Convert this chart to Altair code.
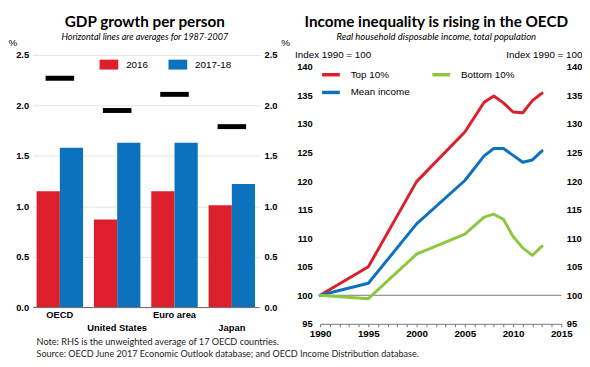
import altair as alt
import pandas as pd

# ---------------- data ----------------
regions = ["OECD", "United States", "Euro area", "Japan"]
series_names = ["2016", "2017-18"]
g2016 = [1.15, 0.87, 1.15, 1.01]
g2017_18 = [1.58, 1.63, 1.63, 1.22]
avg_1987_2007 = [2.27, 1.95, 2.11, 1.79]
left_ticks = [0.0, 0.5, 1.0, 1.5, 2.0, 2.5]

years = [1990, 1995, 2000, 2005, 2007, 2008, 2009, 2010, 2011, 2012, 2013]
top10 = [100, 105, 119.9, 128.6, 133.8, 134.9, 133.7, 132.1, 131.95, 134.1, 135.4]
mean_income = [100, 102.1, 112.5, 120.1, 124.4, 125.7, 125.7, 124.5, 123.3, 123.7, 125.3]
bottom10 = [100, 99.4, 107.2, 110.7, 113.7, 114.2, 113.3, 110.3, 108.3, 107.0, 108.6]
# legend order (filled column by column): Top 10%, Mean income | Bottom 10%
line_names = ["Top 10%", "Mean income", "Bottom 10%"]
right_ticks = [95, 100, 105, 110, 115, 120, 125, 130, 135, 140]
year_ticks = list(range(1990, 2016))

RED = "#dc1f2a"
BLUE = "#0c72be"
GREEN = "#8dc63f"
SANS = "'Liberation Sans', Arial, sans-serif"
TFONT = "Lato"

bar_df = pd.DataFrame({
    "region": regions * 2,
    "series": [series_names[0]] * 4 + [series_names[1]] * 4,
    "value": g2016 + g2017_18,
})
avg_df = pd.DataFrame({"region": regions, "avg": avg_1987_2007})

line_df = pd.DataFrame({
    "year": years * 3,
    "value": top10 + mean_income + bottom10,
    "series": [line_names[0]] * len(years) + [line_names[1]] * len(years) + [line_names[2]] * len(years),
})

yaxis_common = dict(
    labelFont=SANS, labelFontWeight="bold", labelFontSize=9.5, labelColor="#000",
    ticks=False, domain=False, gridColor="#e4e4e4",
    titleFont=SANS, titleFontWeight="normal", titleFontSize=10, titleColor="#000",
    titleAngle=0, titleBaseline="alphabetic",
)

# ---------------- left panel ----------------
ly = alt.Scale(domain=[0, 2.5], nice=False)
lx = alt.Scale(paddingInner=0.19, paddingOuter=0.07)

bars = alt.Chart(bar_df).mark_bar().encode(
    x=alt.X("region:N", sort=regions, scale=lx, axis=alt.Axis(
        title=None, labelAngle=0, ticks=False, domainColor="#666",
        labelFont=SANS, labelFontWeight="bold", labelFontSize=9.5, labelColor="#000",
        labelPadding=3, labelLineHeight=13,
        labelExpr="indexof(['United States','Japan'], datum.label) >= 0 ? ['', datum.label] : datum.label")),
    xOffset=alt.XOffset("series:N", sort=series_names, scale=alt.Scale(paddingInner=0, paddingOuter=0)),
    y=alt.Y("value:Q", scale=ly, axis=alt.Axis(
        values=left_ticks, format=".1f", title="%", titleX=-25, titleY=-10,
        titleAlign="left", labelPadding=4, **yaxis_common)),
    color=alt.Color("series:N", scale=alt.Scale(domain=series_names, range=[RED, BLUE]),
                    legend=alt.Legend(
                        title=None, orient="none", legendX=68, legendY=0, direction="horizontal",
                        symbolType="M-1,-0.53H1V0.53H-1Z", symbolSize=361, symbolStrokeWidth=0,
                        labelFont=SANS, labelFontSize=10, labelColor="#000", labelOffset=8,
                        columnPadding=20, padding=0)),
)

avg_marks = alt.Chart(avg_df).mark_tick(color="black", opacity=1, thickness=5, size=29).encode(
    x=alt.X("region:N", sort=regions, scale=lx),
    y=alt.Y("avg:Q", scale=ly, axis=alt.Axis(
        orient="right", grid=False, values=left_ticks, format=".1f", title="%",
        titleX=22, titleY=-10, titleAlign="left", labelPadding=5, **yaxis_common)),
)

def text_layer(txt, x, y, size, weight="normal", style="normal", align="center", font=TFONT, color="#000"):
    return alt.Chart(pd.DataFrame({"t": [txt]})).mark_text(
        font=font, fontSize=size, fontWeight=weight, fontStyle=style, align=align,
        baseline="alphabetic", color=color,
    ).encode(text="t:N", x=alt.value(x), y=alt.value(y))

left_title = text_layer("GDP growth per person", 114, -28, 15.5, weight="bold")
left_sub = text_layer("Horizontal lines are averages for 1987-2007", 114, -15, 9.2, style="italic")
note1 = text_layer("Note: RHS is the unweighted average of 17 OECD countries.", 4, 294, 9.3,
                   align="left", color="#222")
note2 = text_layer("Source: OECD June 2017 Economic Outlook database; and OECD Income Distribution  database.",
                   4, 307, 9.2, align="left", color="#222")

left = alt.layer(bars, avg_marks, left_title, left_sub, note1, note2).properties(
    width=230, height=256
).resolve_scale(y="shared").resolve_axis(y="independent")

# ---------------- right panel ----------------
ry = alt.Scale(domain=[95, 140], range=[273, 12], nice=False)
rx = alt.Scale(domain=[1990, 2015], nice=False)

base_rule = alt.Chart(pd.DataFrame({"base": [100]})).mark_rule(color="#777", strokeWidth=1).encode(
    y=alt.Y("base:Q", scale=ry, axis=alt.Axis(
        orient="right", grid=False, values=right_ticks, title="Index 1990 = 100",
        titleX=21, titleY=2, titleAlign="right", labelPadding=5, **yaxis_common)),
)

lines = alt.Chart(line_df).mark_line(strokeWidth=3, strokeJoin="round", strokeCap="round").encode(
    x=alt.X("year:Q", scale=rx, axis=alt.Axis(
        title=None, values=year_ticks, format="d",
        labelExpr="datum.value % 5 === 0 ? datum.label : ''",
        tickSize=3, tickColor="#777", domainColor="#777", grid=False,
        labelFont=SANS, labelFontWeight="bold", labelFontSize=10, labelColor="#000",
        labelPadding=2, labelFlush=False)),
    y=alt.Y("value:Q", scale=ry, axis=alt.Axis(
        orient="left", values=right_ticks, title="Index 1990 = 100",
        titleX=-26, titleY=2, titleAlign="left", labelPadding=8, **yaxis_common)),
    color=alt.Color("series:N", scale=alt.Scale(domain=line_names, range=[RED, BLUE, GREEN]),
                    legend=alt.Legend(
                        title=None, orient="none", legendX=0, legendY=9, columns=2,
                        symbolType="stroke", symbolSize=324, symbolStrokeWidth=3.5,
                        labelFont=SANS, labelFontSize=10, labelColor="#000", labelOffset=9,
                        columnPadding=15, rowPadding=-1, padding=0)),
    detail="series:N",
)

right_title = text_layer("Income inequality is rising in the OECD", 118, -28, 15.5, weight="bold")
right_sub = text_layer("Real household disposable income, total population", 118, -15, 9.6, style="italic")

right = alt.layer(base_rule, lines, right_title, right_sub).properties(
    width=245, height=273
).resolve_scale(y="shared").resolve_axis(y="independent")

chart = alt.hconcat(left, right, spacing=62, bounds="flush").resolve_scale(
    color="independent", x="independent", y="independent"
).properties(
    padding={"left": 0, "top": 5, "right": 0, "bottom": 0}
).configure_view(stroke=None)

chart.save("out.html", embed_options={"renderer": "svg", "actions": False})
